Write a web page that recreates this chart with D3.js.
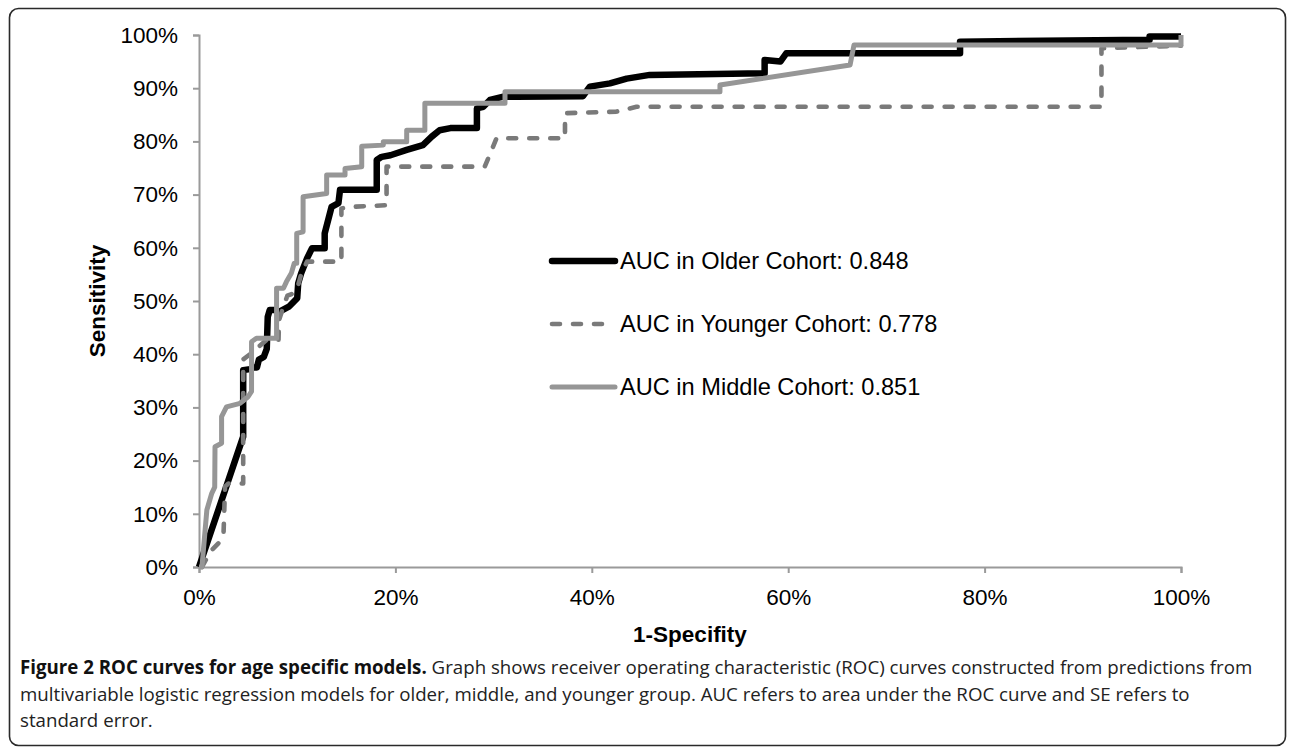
<!DOCTYPE html>
<html>
<head>
<meta charset="utf-8">
<script src="https://cdn.jsdelivr.net/npm/d3@7"></script>
<style>
  body { margin: 0; background: #fff; }
  svg { display: block; }
</style>
</head>
<body>
<div id="chart"></div>
<script>
// ROC points as [1-specificity, sensitivity]
const olderPoints = [
  [0, 0], [0.045, 0.245], [0.045, 0.37], [0.052, 0.372], [0.055, 0.375], [0.059, 0.375],
  [0.061, 0.39], [0.066, 0.395], [0.069, 0.41], [0.070, 0.47], [0.072, 0.483], [0.078, 0.483],
  [0.082, 0.48], [0.092, 0.49], [0.100, 0.505], [0.101, 0.533], [0.104, 0.552], [0.110, 0.58],
  [0.115, 0.599], [0.128, 0.599], [0.128, 0.627], [0.135, 0.677], [0.142, 0.684], [0.1436, 0.709],
  [0.181, 0.709], [0.181, 0.765], [0.186, 0.771], [0.195, 0.774], [0.2115, 0.784], [0.228, 0.793],
  [0.237, 0.809], [0.245, 0.821], [0.256, 0.825], [0.283, 0.825], [0.283, 0.862], [0.2895, 0.865],
  [0.2963, 0.878], [0.31, 0.884], [0.3235, 0.884], [0.391, 0.885], [0.398, 0.903], [0.4185, 0.909],
  [0.4355, 0.918], [0.459, 0.925], [0.576, 0.928], [0.576, 0.953], [0.592, 0.950], [0.598, 0.9655],
  [0.775, 0.9655], [0.775, 0.9875], [0.968, 0.991], [0.968, 0.997], [1.0, 0.997]
];

const youngerPoints = [
  [0.003, 0], [0.006, 0.01], [0.012, 0.03], [0.020, 0.045], [0.025, 0.063], [0.0265, 0.151],
  [0.030, 0.157], [0.045, 0.157], [0.045, 0.39], [0.052, 0.40], [0.057, 0.408], [0.069, 0.427],
  [0.081, 0.427], [0.0815, 0.464], [0.086, 0.49], [0.090, 0.51], [0.097, 0.515], [0.101, 0.53],
  [0.104, 0.55], [0.110, 0.574], [0.145, 0.574], [0.145, 0.674], [0.155, 0.677], [0.191, 0.680],
  [0.191, 0.7525], [0.291, 0.7525], [0.303, 0.806], [0.3727, 0.806], [0.3727, 0.853], [0.425, 0.856],
  [0.4455, 0.865], [0.919, 0.865], [0.919, 0.975], [1.0, 0.98]
];

const middlePoints = [
  [0, 0], [0.003, 0.0], [0.008, 0.107], [0.013, 0.1385], [0.016, 0.15], [0.0163, 0.226],
  [0.023, 0.2325], [0.023, 0.2825], [0.028, 0.301], [0.0418, 0.3077], [0.050, 0.320], [0.0535, 0.33],
  [0.0535, 0.4235], [0.0585, 0.430], [0.079, 0.430], [0.079, 0.524], [0.086, 0.524], [0.089, 0.536],
  [0.094, 0.552], [0.097, 0.571], [0.0995, 0.571], [0.0995, 0.627], [0.106, 0.63], [0.106, 0.696],
  [0.130, 0.702], [0.130, 0.737], [0.1487, 0.737], [0.1487, 0.749], [0.1657, 0.7525], [0.1657, 0.791],
  [0.1877, 0.793], [0.1877, 0.7995], [0.2115, 0.7995], [0.2115, 0.821], [0.230, 0.821], [0.230, 0.8716],
  [0.3116, 0.8716], [0.3116, 0.8935], [0.5305, 0.8935], [0.5305, 0.906], [0.663, 0.9436], [0.667, 0.981],
  [1.0, 0.981], [1.0, 1.0]
];

const seriesNames = [
  "AUC in Older Cohort: 0.848",
  "AUC in Younger Cohort: 0.778",
  "AUC in Middle Cohort: 0.851"
];

const xTicks = [0, 0.2, 0.4, 0.6, 0.8, 1.0];
const yTicks = [0, 0.1, 0.2, 0.3, 0.4, 0.5, 0.6, 0.7, 0.8, 0.9, 1.0];

const captionLines = [
  { bold: "Figure 2 ROC curves for age specific models.", rest: " Graph shows receiver operating characteristic (ROC) curves constructed from predictions from" },
  { bold: "", rest: "multivariable logistic regression models for older, middle, and younger group. AUC refers to area under the ROC curve and SE refers to" },
  { bold: "", rest: "standard error." }
];

const W = 1293, H = 748;
const plot = { left: 199, right: 1181, top: 35, bottom: 567 };
const chartFont = "'Liberation Sans', Arial, sans-serif";

const svg = d3.select("#chart")
  .append("svg")
  .attr("width", W)
  .attr("height", H);

// outer frame
svg.append("rect")
  .attr("x", 9.5).attr("y", 8.5)
  .attr("width", 1276).attr("height", 737)
  .attr("rx", 9).attr("ry", 9)
  .attr("fill", "none")
  .attr("stroke", "#2a2a2a")
  .attr("stroke-width", 1.6);

const x = d3.scaleLinear().domain([0, 1]).range([plot.left, plot.right]);
const y = d3.scaleLinear().domain([0, 1]).range([plot.bottom, plot.top]);
const pct = d3.format(".0%");

// axes
const xAxis = svg.append("g")
  .attr("transform", `translate(0,${plot.bottom})`)
  .call(d3.axisBottom(x).tickValues(xTicks).tickFormat(pct).tickSizeOuter(0).tickSize(6).tickPadding(16));

const yAxis = svg.append("g")
  .attr("transform", `translate(${plot.left},0)`)
  .call(d3.axisLeft(y).tickValues(yTicks).tickFormat(pct).tickSizeOuter(0).tickSize(6).tickPadding(15));

[xAxis, yAxis].forEach(g => {
  g.select(".domain").attr("stroke", "#9a9a9a").attr("stroke-width", 2);
  g.selectAll(".tick line").attr("stroke", "#9a9a9a").attr("stroke-width", 2);
  g.selectAll(".tick text")
    .attr("fill", "#000")
    .style("font-family", chartFont)
    .style("font-size", "22.5px");
});

// axis titles
svg.append("text")
  .attr("x", (plot.left + plot.right) / 2)
  .attr("y", 642)
  .attr("text-anchor", "middle")
  .style("font-family", chartFont)
  .style("font-size", "22.5px")
  .style("font-weight", "bold")
  .text("1-Specifity");

svg.append("text")
  .attr("transform", `translate(105,${(plot.top + plot.bottom) / 2}) rotate(-90)`)
  .attr("text-anchor", "middle")
  .style("font-family", chartFont)
  .style("font-size", "22.5px")
  .style("font-weight", "bold")
  .text("Sensitivity");

const line = d3.line()
  .x(d => x(d[0]))
  .y(d => y(d[1]));

const styles = [
  { color: "#000000", width: 6.5, dash: null },
  { color: "#7a7a7a", width: 4.6, dash: "8,13" },
  { color: "#969696", width: 5, dash: null }
];

[olderPoints, youngerPoints, middlePoints].forEach((pts, i) => {
  svg.append("path")
    .datum(pts)
    .attr("fill", "none")
    .attr("stroke", styles[i].color)
    .attr("stroke-width", styles[i].width)
    .attr("stroke-linejoin", "round")
    .attr("stroke-linecap", styles[i].dash ? "round" : "butt")
    .attr("stroke-dasharray", styles[i].dash)
    .attr("d", line);
});

// legend
const legendY = [261, 324, 387];
const legend = svg.append("g");
seriesNames.forEach((name, i) => {
  legend.append("line")
    .attr("x1", 552).attr("x2", i === 1 ? 610 : 615)
    .attr("y1", legendY[i]).attr("y2", legendY[i])
    .attr("stroke", styles[i].color)
    .attr("stroke-width", styles[i].width)
    .attr("stroke-linecap", "round")
    .attr("stroke-dasharray", styles[i].dash);
  legend.append("text")
    .attr("x", 620)
    .attr("y", legendY[i])
    .attr("dy", "0.36em")
    .style("font-family", chartFont)
    .style("font-size", "23.6px")
    .text(name);
});

// caption
const caption = svg.append("g")
  .style("font-family", "'Open Sans', 'Noto Sans', sans-serif")
  .style("font-size", "18.7px")
  .attr("fill", "#222");
captionLines.forEach((ln, i) => {
  const t = caption.append("text")
    .attr("x", 20)
    .attr("y", 674 + i * 26.5);
  if (ln.bold) t.append("tspan").style("font-weight", "bold").attr("fill", "#111").text(ln.bold);
  t.append("tspan").text(ln.rest);
});
</script>
</body>
</html>
